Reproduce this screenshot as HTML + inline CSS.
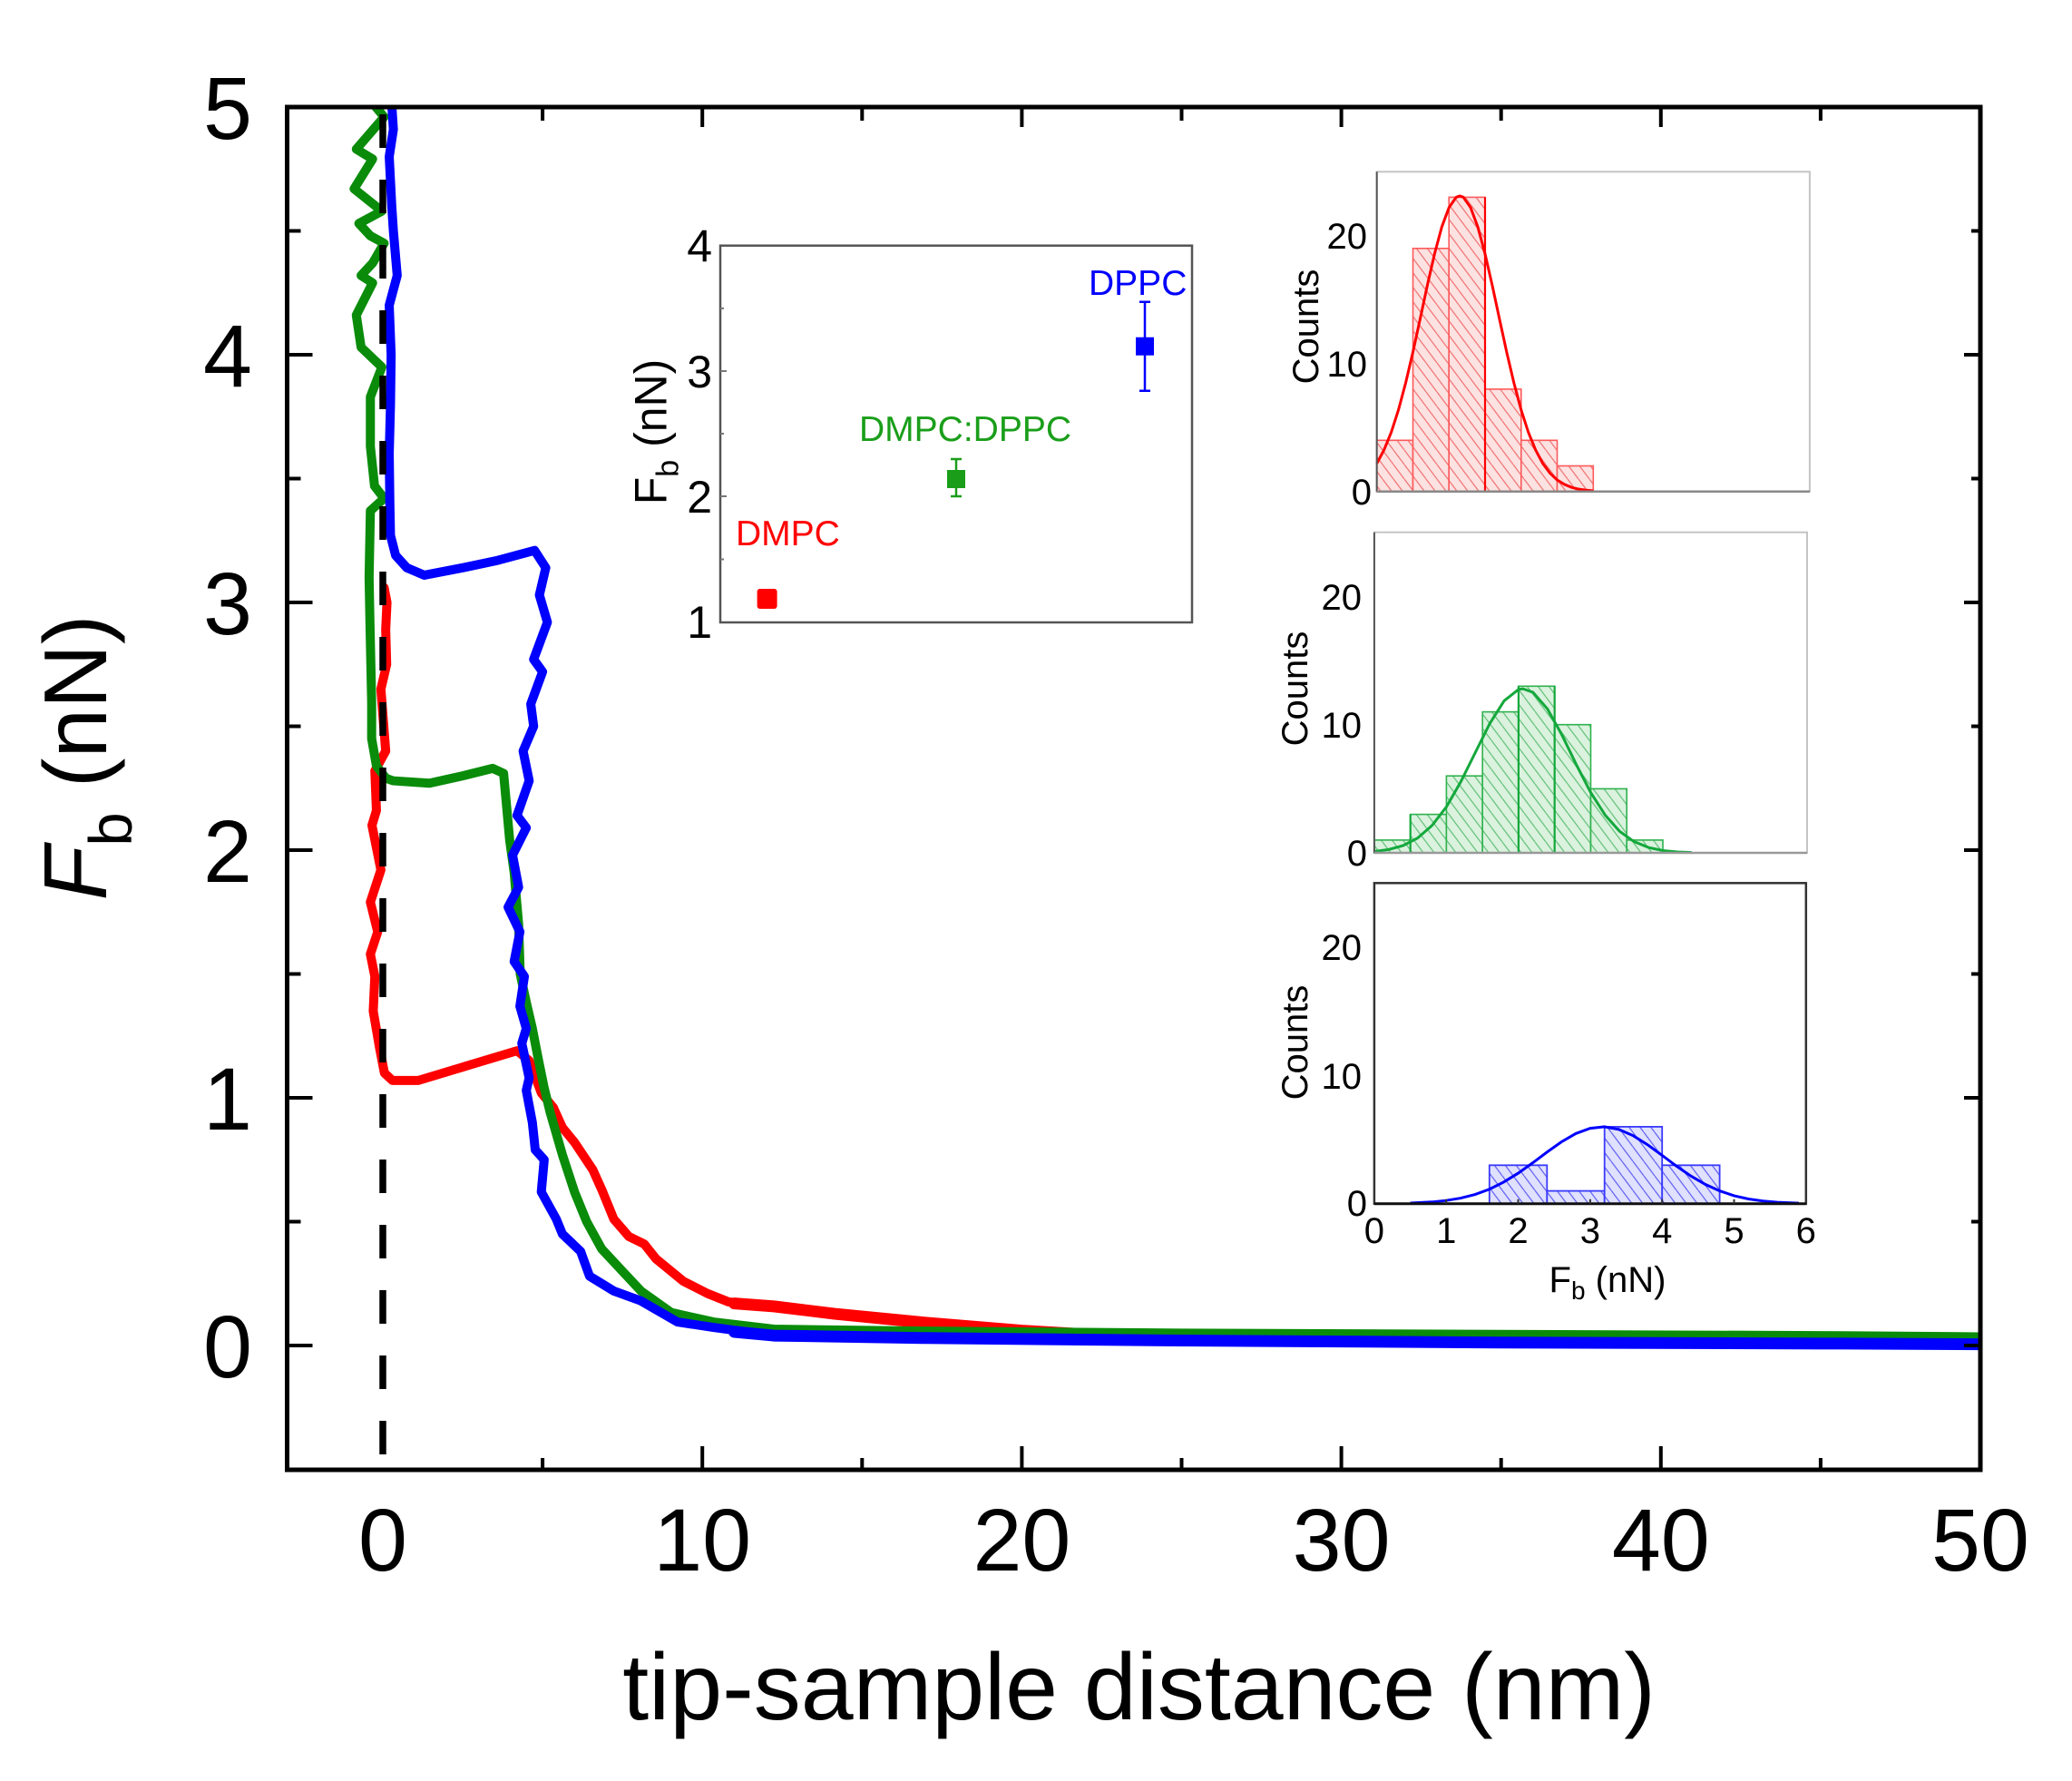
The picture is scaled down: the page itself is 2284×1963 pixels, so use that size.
<!DOCTYPE html>
<html>
<head>
<meta charset="utf-8">
<style>
html,body{margin:0;padding:0;background:#fff;}
svg{display:block;}
text{font-family:"Liberation Sans",Arial,sans-serif;}
</style>
</head>
<body>
<svg width="2284" height="1963" viewBox="0 0 2284 1963" xmlns="http://www.w3.org/2000/svg">
<defs>
  <clipPath id="mainclip"><rect x="316.5" y="118" width="1866.5" height="1502"/></clipPath>
  <pattern id="hR" width="12" height="16" patternUnits="userSpaceOnUse">
    <rect width="12" height="16" fill="#fde2e2"/>
    <path d="M0,0 L12,16 M-12,0 L0,16 M12,0 L24,16" stroke="#f27a7a" stroke-width="1.3"/>
  </pattern>
  <pattern id="hG" width="12" height="16" patternUnits="userSpaceOnUse">
    <rect width="12" height="16" fill="#daf2de"/>
    <path d="M0,0 L12,16 M-12,0 L0,16 M12,0 L24,16" stroke="#6cc480" stroke-width="1.3"/>
  </pattern>
  <pattern id="hB" width="12" height="16" patternUnits="userSpaceOnUse">
    <rect width="12" height="16" fill="#e0e0ff"/>
    <path d="M0,0 L12,16 M-12,0 L0,16 M12,0 L24,16" stroke="#6a6af2" stroke-width="1.3"/>
  </pattern>
</defs>

<!-- ===== Main curves ===== -->
<g clip-path="url(#mainclip)">
  <g transform="translate(422,1483) scale(35.22,-273)" fill="none" stroke-linejoin="round" stroke-linecap="round">
    <!-- red -->
    <path vector-effect="non-scaling-stroke" stroke="#ff0000" stroke-width="10"
      d="M0.04,3.06 L0.13,3.0 L0.09,2.89 L0.12,2.75 L-0.06,2.65 L0.09,2.40 L-0.25,2.32 L-0.2,2.16 L-0.34,2.10 L-0.06,1.92 L-0.39,1.79 L-0.16,1.67 L-0.39,1.58 L-0.25,1.49 L-0.3,1.35 L-0.1,1.2 L0.05,1.1 L0.3,1.07 L1.11,1.07 L2.78,1.135 L4.2,1.19 L4.58,1.15 L4.96,1.02 L5.34,0.96 L5.62,0.88 L6.0,0.82 L6.57,0.71 L6.85,0.63 L7.23,0.51 L7.7,0.44 L8.18,0.41 L8.55,0.35 L9.4,0.26 L10.16,0.21 L10.82,0.176 L12.24,0.158 L14.14,0.128 L16.98,0.092 L20,0.06 L22,0.045 L24.7,0.035"/>
    <path vector-effect="non-scaling-stroke" stroke="#ff0000" stroke-width="13"
      d="M11,0.17 L12.24,0.158 L14.14,0.128 L16.98,0.092 L20,0.06 L22,0.045"/>
    <!-- green -->
    <path vector-effect="non-scaling-stroke" stroke="#0a8c0a" stroke-width="10"
      d="M-0.54,5.05 L0.04,4.96 L-0.83,4.83 L-0.32,4.79 L-0.9,4.67 L-0.03,4.58 L-0.75,4.53 L-0.39,4.48 L0.04,4.45 L-0.32,4.37 L-0.68,4.32 L-0.32,4.29 L-0.83,4.16 L-0.68,4.03 L-0.03,3.95 L-0.39,3.83 L-0.39,3.63 L-0.26,3.47 L0.04,3.42 L-0.39,3.37 L-0.43,3.1 L-0.40,2.9 L-0.35,2.6 L-0.35,2.45 L-0.2,2.34 L0.1,2.29 L0.32,2.28 L1.46,2.27 L2.5,2.30 L3.44,2.33 L3.78,2.31 L3.97,2.04 L4.11,1.91 L4.25,1.7 L4.3,1.5 L4.5,1.38 L4.68,1.28 L4.86,1.16 L5.05,1.04 L5.24,0.94 L5.62,0.77 L6.0,0.62 L6.38,0.50 L6.85,0.39 L7.5,0.30 L8.08,0.22 L9.03,0.133 L10.35,0.095 L12.24,0.066 L17,0.058 L25,0.05 L35,0.045 L45,0.04 L50,0.035"/>
    <!-- blue -->
    <path vector-effect="non-scaling-stroke" stroke="#0000ff" stroke-width="10"
      d="M0.26,5.05 L0.33,4.91 L0.2,4.8 L0.28,4.6 L0.33,4.5 L0.45,4.32 L0.2,4.2 L0.26,4.0 L0.24,3.8 L0.2,3.6 L0.22,3.4 L0.24,3.27 L0.4,3.19 L0.75,3.14 L1.3,3.11 L2.5,3.14 L3.6,3.17 L4.75,3.21 L5.1,3.14 L4.9,3.03 L5.15,2.92 L4.72,2.77 L5.0,2.72 L4.63,2.59 L4.72,2.5 L4.39,2.40 L4.58,2.28 L4.2,2.14 L4.49,2.09 L4.06,1.98 L4.25,1.85 L3.92,1.77 L4.29,1.67 L4.11,1.55 L4.43,1.49 L4.29,1.37 L4.49,1.28 L4.35,1.22 L4.58,1.08 L4.49,1.03 L4.68,0.90 L4.77,0.79 L5.05,0.75 L4.96,0.62 L5.43,0.51 L5.62,0.45 L6.19,0.38 L6.47,0.28 L7.23,0.22 L8.08,0.18 L9.22,0.095 L10.35,0.073 L12.24,0.04 L17,0.03 L25,0.02 L35,0.012 L45,0.008 L50,0.005"/>
    <path vector-effect="non-scaling-stroke" stroke="#0000ff" stroke-width="13"
      d="M11,0.055 L12.24,0.04 L17,0.03 L25,0.02 L35,0.012 L45,0.008 L50,0.005"/>
  </g>
</g>

<!-- dashed zero line -->
<line x1="422" y1="118" x2="422" y2="1620" stroke="#000" stroke-width="7.5" stroke-dasharray="37 35" stroke-dashoffset="64"/>

<!-- ===== Main frame ===== -->
<rect x="316.5" y="118" width="1866.5" height="1502" fill="none" stroke="#000" stroke-width="5"/>
<g stroke="#000" stroke-width="4">
  <path d="M316.5,1483 h28 M316.5,1210 h28 M316.5,937 h28 M316.5,664 h28 M316.5,391 h28"/>
  <path d="M316.5,1346.5 h15 M316.5,1073.5 h15 M316.5,800.5 h15 M316.5,527.5 h15 M316.5,254.5 h15"/>
  <path d="M2183,1483 h-18 M2183,1210 h-18 M2183,937 h-18 M2183,664 h-18 M2183,391 h-18"/>
  <path d="M2183,1346.5 h-10 M2183,1073.5 h-10 M2183,800.5 h-10 M2183,527.5 h-10 M2183,254.5 h-10"/>
  <path d="M774.2,1620 v-26 M1126.4,1620 v-26 M1478.6,1620 v-26 M1830.8,1620 v-26"/>
  <path d="M598.1,1620 v-13 M950.3,1620 v-13 M1302.5,1620 v-13 M1654.7,1620 v-13 M2006.9,1620 v-13"/>
  <path d="M774.2,118 v22 M1126.4,118 v22 M1478.6,118 v22 M1830.8,118 v22"/>
  <path d="M598.1,118 v15 M950.3,118 v15 M1302.5,118 v15 M1654.7,118 v15 M2006.9,118 v15"/>
</g>

<!-- main tick labels -->
<g font-size="97" fill="#000" text-anchor="end">
  <text x="278" y="1518">0</text>
  <text x="278" y="1245">1</text>
  <text x="278" y="972">2</text>
  <text x="278" y="699">3</text>
  <text x="278" y="426">4</text>
  <text x="278" y="153">5</text>
</g>
<g font-size="97" fill="#000" text-anchor="middle">
  <text x="422" y="1731">0</text>
  <text x="774.2" y="1731">10</text>
  <text x="1126.4" y="1731">20</text>
  <text x="1478.6" y="1731">30</text>
  <text x="1830.8" y="1731">40</text>
  <text x="2183" y="1731">50</text>
</g>
<text x="1255.6" y="1895" font-size="104" text-anchor="middle" fill="#000">tip-sample distance (nm)</text>
<text transform="translate(117,835) rotate(-90)" font-size="98" text-anchor="middle" fill="#000"><tspan font-style="italic">F</tspan><tspan font-size="67" dy="28">b</tspan><tspan dy="-28"> (nN)</tspan></text>

<!-- ===== Scatter inset ===== -->
<rect x="794" y="270.7" width="520" height="415.3" fill="#fff" stroke="#555" stroke-width="2.5"/>
<g stroke="#777" stroke-width="2">
  <path d="M794,409 h7 M794,547 h7 M794,339.9 h4 M794,478 h4 M794,616.5 h4"/>
</g>
<g font-size="50" fill="#000" text-anchor="end">
  <text x="785" y="288.6">4</text>
  <text x="785" y="427">3</text>
  <text x="785" y="565">2</text>
  <text x="785" y="703">1</text>
</g>
<text transform="translate(734.5,476) rotate(-90)" font-size="50" text-anchor="middle" fill="#000">F<tspan font-size="34" dy="13">b</tspan><tspan dy="-13"> (nN)</tspan></text>
<rect x="834.6" y="649" width="22" height="22" rx="3" fill="#ff0000"/>
<g stroke="#1a9e1a" stroke-width="2.5">
  <path d="M1054,506 V547 M1048,506 H1060 M1048,547 H1060"/>
</g>
<rect x="1044" y="518" width="20" height="20" fill="#1a9e1a"/>
<g stroke="#0000ff" stroke-width="2.5">
  <path d="M1262,332.7 V430.7 M1256,332.7 H1268 M1256,430.7 H1268"/>
</g>
<rect x="1252" y="371.7" width="20" height="20" fill="#0000ff"/>
<text x="811" y="601" font-size="39" fill="#ff0000">DMPC</text>
<text x="947" y="486" font-size="39" fill="#1a9e1a">DMPC:DPPC</text>
<text x="1200" y="325" font-size="39" fill="#0000ff">DPPC</text>

<!-- ===== Top histogram (red) ===== -->
<rect x="1517.7" y="189.3" width="477.2" height="352.4" fill="#fff" stroke="#c4c4c4" stroke-width="2"/>
<g fill="url(#hR)" stroke="#ff5a5a" stroke-width="1.6">
  <rect x="1517.7" y="485.3" width="39.8" height="56.4"/>
  <rect x="1557.5" y="273.8" width="39.7" height="267.9"/>
  <rect x="1597.2" y="217.4" width="39.8" height="324.3"/>
  <rect x="1637.0" y="428.9" width="39.8" height="112.8"/>
  <rect x="1676.8" y="485.3" width="39.7" height="56.4"/>
  <rect x="1716.5" y="513.5" width="39.8" height="28.2"/>
</g>
<line x1="1637" y1="217.4" x2="1637" y2="541.7" stroke="#ff0000" stroke-width="2.2"/>
<g transform="translate(1517.7,541.7) scale(79.53,-14.1)">
  <path vector-effect="non-scaling-stroke" fill="none" stroke="#ff0000" stroke-width="3"
    d="M0,2.19 L0.1,3.25 L0.2,4.63 L0.3,6.38 L0.4,8.49 L0.5,10.89 L0.6,13.48 L0.7,16.11 L0.8,18.57 L0.9,20.67 L1.0,22.19 L1.1,23.0 L1.15,23.1 L1.2,23.0 L1.3,22.19 L1.4,20.67 L1.5,18.57 L1.6,16.11 L1.7,13.48 L1.8,10.89 L1.9,8.49 L2.0,6.38 L2.1,4.63 L2.2,3.25 L2.3,2.19 L2.4,1.43 L2.5,0.90 L2.6,0.55 L2.7,0.32 L2.8,0.18 L2.9,0.10 L3.0,0.05"/>
</g>
<line x1="1517.7" y1="189.3" x2="1517.7" y2="541.7" stroke="#555" stroke-width="2"/>
<line x1="1517.7" y1="541.7" x2="1994.9" y2="541.7" stroke="#888" stroke-width="2.5"/>
<g fill="#000" font-size="40" text-anchor="end">
  <text x="1507" y="274">20</text>
  <text x="1507" y="415">10</text>
  <text x="1512" y="556">0</text>
</g>
<text transform="translate(1453,360) rotate(-90)" font-size="40" text-anchor="middle" fill="#000">Counts</text>

<!-- ===== Middle histogram (green) ===== -->
<rect x="1514.9" y="586.7" width="477.1" height="353.3" fill="#fff" stroke="#c4c4c4" stroke-width="2"/>
<g fill="url(#hG)" stroke="#2fb24e" stroke-width="1.6">
  <rect x="1514.9" y="925.9" width="39.8" height="14.1"/>
  <rect x="1554.7" y="897.6" width="39.7" height="42.4"/>
  <rect x="1594.4" y="855.2" width="39.8" height="84.8"/>
  <rect x="1634.2" y="784.6" width="39.7" height="155.4"/>
  <rect x="1673.9" y="756.3" width="39.8" height="183.7"/>
  <rect x="1713.7" y="798.7" width="39.8" height="141.3"/>
  <rect x="1753.5" y="869.4" width="39.7" height="70.6"/>
  <rect x="1793.2" y="925.9" width="39.8" height="14.1"/>
</g>
<g stroke="#14a83c" stroke-width="2.2">
  <line x1="1554.7" y1="897.6" x2="1554.7" y2="940"/>
  <line x1="1673.9" y1="756.3" x2="1673.9" y2="940"/>
  <line x1="1713.7" y1="756.3" x2="1713.7" y2="940"/>
</g>
<g transform="translate(1514.9,940) scale(79.52,-14.13)">
  <path vector-effect="non-scaling-stroke" fill="none" stroke="#14a83c" stroke-width="3"
    d="M0,0.106 L0.2,0.256 L0.4,0.568 L0.6,1.15 L0.8,2.13 L1.0,3.59 L1.2,5.55 L1.4,7.82 L1.6,10.08 L1.8,11.86 L2.0,12.75 L2.06,12.8 L2.2,12.52 L2.4,11.23 L2.6,9.21 L2.8,6.89 L3.0,4.71 L3.2,2.95 L3.4,1.68 L3.6,0.88 L3.8,0.42 L4.0,0.18 L4.2,0.07 L4.4,0.03"/>
</g>
<line x1="1514.9" y1="586.7" x2="1514.9" y2="940" stroke="#555" stroke-width="2"/>
<line x1="1514.9" y1="940" x2="1992" y2="940" stroke="#999" stroke-width="2.5"/>
<g fill="#000" font-size="40" text-anchor="end">
  <text x="1501" y="672">20</text>
  <text x="1501" y="813">10</text>
  <text x="1507" y="954">0</text>
</g>
<text transform="translate(1441,759) rotate(-90)" font-size="40" text-anchor="middle" fill="#000">Counts</text>

<!-- ===== Bottom histogram (blue) ===== -->
<rect x="1514.9" y="973.3" width="475.9" height="353.4" fill="#fff" stroke="#333" stroke-width="2.5"/>
<g fill="url(#hB)" stroke="#3a3aff" stroke-width="1.8">
  <rect x="1641.8" y="1284.3" width="63.5" height="42.4"/>
  <rect x="1705.3" y="1312.6" width="63.4" height="14.1"/>
  <rect x="1768.7" y="1241.9" width="63.5" height="84.8"/>
  <rect x="1832.2" y="1284.3" width="63.4" height="42.4"/>
</g>
<g transform="translate(1514.9,1326.7) scale(79.32,-14.13)">
  <path vector-effect="non-scaling-stroke" fill="none" stroke="#0000ff" stroke-width="3"
    d="M0.5,0.048 L0.8,0.134 L1.0,0.248 L1.2,0.435 L1.4,0.72 L1.6,1.13 L1.8,1.69 L2.0,2.38 L2.2,3.18 L2.4,4.02 L2.6,4.82 L2.8,5.47 L3.0,5.88 L3.2,6.0 L3.4,5.79 L3.6,5.30 L3.8,4.59 L4.0,3.77 L4.2,2.93 L4.4,2.16 L4.6,1.51 L4.8,1.00 L5.0,0.62 L5.2,0.37 L5.4,0.21 L5.6,0.11 L5.9,0.04"/>
</g>
<line x1="1514.9" y1="1326.7" x2="1990.8" y2="1326.7" stroke="#111" stroke-width="3"/>
<g stroke="#333" stroke-width="2">
  <path d="M1594.2,1326.7 v-5 M1673.5,1326.7 v-5 M1752.9,1326.7 v-5 M1832.2,1326.7 v-5 M1911.5,1326.7 v-5"/>
</g>
<g fill="#000" font-size="40" text-anchor="end">
  <text x="1501" y="1058">20</text>
  <text x="1501" y="1200">10</text>
  <text x="1507" y="1340">0</text>
</g>
<g fill="#000" font-size="40" text-anchor="middle">
  <text x="1514.9" y="1370">0</text>
  <text x="1594.2" y="1370">1</text>
  <text x="1673.5" y="1370">2</text>
  <text x="1752.9" y="1370">3</text>
  <text x="1832.2" y="1370">4</text>
  <text x="1911.5" y="1370">5</text>
  <text x="1990.8" y="1370">6</text>
</g>
<text transform="translate(1441,1149) rotate(-90)" font-size="40" text-anchor="middle" fill="#000">Counts</text>
<text x="1772" y="1424" font-size="40" text-anchor="middle" fill="#000">F<tspan font-size="28" dy="8">b</tspan><tspan dy="-8"> (nN)</tspan></text>
</svg>
</body>
</html>
